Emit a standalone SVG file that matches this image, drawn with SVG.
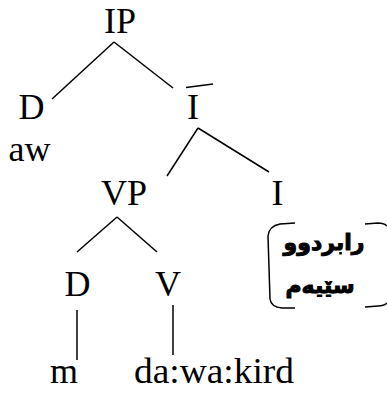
<svg xmlns="http://www.w3.org/2000/svg" width="387" height="399" viewBox="0 0 387 399">
<style>
.e{stroke:#000;stroke-width:1.5;fill:none}
</style>
<rect width="387" height="399" fill="#fff"/>
<g id="connectors" class="e">
<line x1="114" y1="42" x2="52" y2="99"/>
<line x1="114" y1="42" x2="173" y2="88"/>
<line x1="198" y1="128" x2="167" y2="176"/>
<line x1="198" y1="128" x2="269" y2="172"/>
<line x1="117" y1="217" x2="77" y2="252"/>
<line x1="117" y1="217" x2="157" y2="252"/>
<line x1="77" y1="310" x2="77" y2="360"/>
<line x1="173" y1="305" x2="173" y2="355"/>
</g>
<g font-family="Liberation Serif" font-size="36" fill="#000" text-anchor="middle">
<g id="IP"><text x="120" y="33">IP</text></g>
<g id="D1"><text x="31.5" y="119">D</text></g>
<g id="aw"><text x="29.5" y="161">aw</text></g>
<g id="Ibar"><text x="193" y="119">I</text><line class="e" x1="186" y1="87.5" x2="213" y2="84"/></g>
<g id="VP"><text x="124" y="205">VP</text></g>
<g id="I"><text x="277.5" y="205">I</text></g>
<g id="D2"><text x="77.5" y="296">D</text></g>
<g id="V"><text x="168" y="296">V</text></g>
<g id="m"><text x="64" y="383">m</text></g>
<g id="dawakird"><text x="214" y="383" textLength="160" lengthAdjust="spacingAndGlyphs">da:wa:kird</text></g>
</g>
<g id="tense">
<path class="e" d="M295,223 L280,224 Q269,226 268,236 L270,299 Q271,307 282,308 L295,308"/>
<path class="e" d="M365,224 L378,223 Q384,223 387,226"/>
<path class="e" d="M365,307 L378,306 Q384,306 387,303"/>
<g font-family="DejaVu Sans" font-weight="bold" font-size="22" fill="#000" stroke="#000" stroke-width="1" text-anchor="middle">
<text x="324" y="250" direction="rtl">رابردوو</text>
<text x="320" y="293" direction="rtl">سێیەم</text>
</g>
</g>
</svg>
